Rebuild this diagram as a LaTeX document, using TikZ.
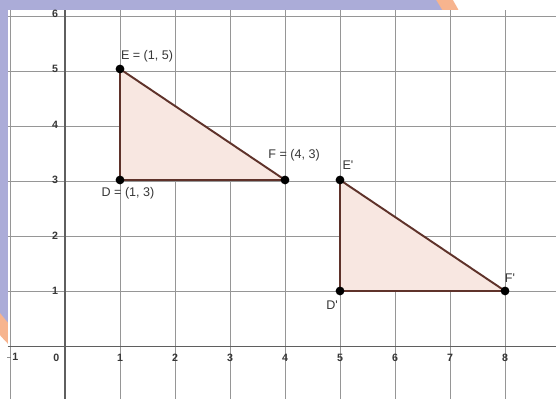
\documentclass[tikz,border=0pt]{standalone}
\usepackage{fontspec}
\setmainfont{Liberation Sans}
\usepackage{xcolor}

\definecolor{lavender}{RGB}{171,172,216}
\definecolor{ringorange}{RGB}{247,180,142}
\definecolor{gridgray}{RGB}{150,150,150}
\definecolor{axisgray}{RGB}{95,95,95}
\definecolor{triedge}{RGB}{95,50,42}
\definecolor{trifill}{RGB}{248,231,225}
\definecolor{labelgray}{RGB}{55,55,55}

\begin{document}
\begin{tikzpicture}[x=1cm, y=1.009cm,
    pt/.style={circle, fill=black, inner sep=0pt, minimum size=1.6mm},
    tri/.style={fill=trifill, draw=triedge, line width=1pt, line join=round},
    ticklabel/.style={inner sep=0pt, text=labelgray, font=\fontsize{5.5}{6}\selectfont\bfseries},
    ptlabel/.style={inner sep=0pt, text=labelgray, font=\fontsize{6.5}{8}\selectfont}]
    \useasboundingbox (-1.182,-0.946) rectangle (8.927,6.243);

    % watermark behind the graph panel
    \fill[white] (-1.182,-0.946) rectangle (8.927,6.243);
    \fill[ringorange] (2.636,3.63) circle (5.13);
    \fill[lavender] (2.636,3.63) circle (4.87);

    % graph panel
    \fill[white] (-1.04,-0.946) rectangle (8.927,6.063);
    \draw[gridgray, line width=0.5pt] (-1.04,-0.946) grid (8.927,6.063);
    \draw[axisgray, line width=1pt] (-1.04,0) -- (8.927,0); % x axis
    \draw[axisgray, line width=1pt] (0,-0.946) -- (0,6.063); % y axis

    \begin{scope}
    \clip (-1.04,-0.946) rectangle (8.927,6.063);
    \node[ticklabel] (xm1) at (-1,-0.2) {$-$1};
    \node[ticklabel] (x0) at (-0.16,-0.2) {0};
    \foreach \x in {1,...,8}
        \node[ticklabel] (x\x) at (\x,-0.2) {\x};
    \foreach \y in {1,...,6}
        \node[ticklabel] (y\y) at (-0.18,\y) {\y};
    \end{scope}

    % triangle DEF and its image D'E'F'
    \coordinate (D) at (1,3);
    \coordinate (E) at (1,5);
    \coordinate (F) at (4,3);
    \coordinate (D1) at (5,1);
    \coordinate (E1) at (5,3);
    \coordinate (F1) at (8,1);

    \filldraw[tri] (D) -- (E) -- (F) -- cycle;
    \filldraw[tri] (D1) -- (E1) -- (F1) -- cycle;

    \node[pt] (dotD) at (D) {};
    \node[pt] (dotE) at (E) {};
    \node[pt] (dotF) at (F) {};
    \node[pt] (dotD1) at (D1) {};
    \node[pt] (dotE1) at (E1) {};
    \node[pt] (dotF1) at (F1) {};

    \node[ptlabel] (lblE) at (1.491,5.234) {E = (1, 5)};
    \node[ptlabel] (lblF) at (4.164,3.45) {F = (4, 3)};
    \node[ptlabel] (lblD) at (1.145,2.757) {D = (1, 3)};
    \node[ptlabel] (lblE1) at (5.145,3.27) {E\textquotesingle};
    \node[ptlabel] (lblD1) at (4.855,0.748) {D\textquotesingle};
    \node[ptlabel] (lblF1) at (8.09,1.234) {F\textquotesingle};
\end{tikzpicture}
\end{document}
